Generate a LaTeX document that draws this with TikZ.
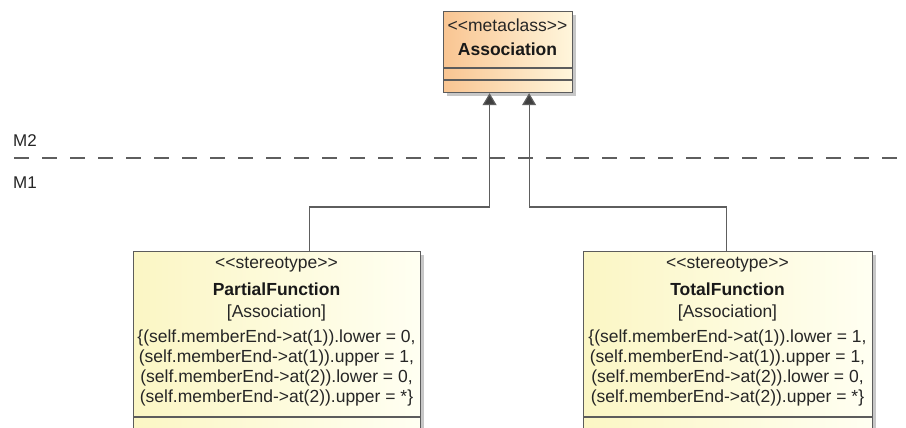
\documentclass[tikz,border=0pt]{standalone}
\usepackage{fontspec}
\newfontfamily\umlfont{Liberation Sans}
\usetikzlibrary{arrows.meta,shadows}

\definecolor{boxedge}{HTML}{5C5C5C}
\definecolor{wire}{HTML}{5E5E5E}
\definecolor{tipfill}{HTML}{3F3F3F}
\definecolor{metaA}{HTML}{F9C592}
\definecolor{metaB}{HTML}{FFF6DC}
\definecolor{stA}{HTML}{FBF6C4}
\definecolor{stB}{HTML}{FFFFF2}

\tikzset{
  umltext/.style={font=\umlfont\fontsize{17.5}{20}\selectfont, inner sep=0pt, text=black!85},
  umlname/.style={font=\umlfont\bfseries\fontsize{17.5}{20}\selectfont, inner sep=0pt, text=black!90},
  boxline/.style={draw=boxedge, line width=1.2pt, inner sep=0pt, anchor=north west,
    drop shadow={shadow xshift=3pt, shadow yshift=-3pt, fill=black, opacity=0.22}},
  metabox/.style={boxline, left color=metaA, right color=metaB},
  stereobox/.style={boxline, left color=stA, right color=stB},
  sep/.style={draw=boxedge, line width=1.2pt},
  gen/.style={draw=wire, line width=1.2pt,
    -{Triangle[width=14pt,length=12pt,fill=tipfill]}},
  level/.style={draw=wire, line width=1.1pt, dash pattern=on 15pt off 13pt},
  levtext/.style={font=\umlfont\fontsize{17}{20}\selectfont, inner sep=0pt, anchor=west, text=black!85},
}

\begin{document}
\begin{tikzpicture}[x=1pt,y=-1pt]
  \clip (0,0) rectangle (906,428);
  \fill[white] (0,0) rectangle (906,428);

  % metaclass Association
  \node[metabox, minimum width=129pt, minimum height=81pt] (assoc) at (443,11) {};
  \node[umltext] (assoc-st) at (507.5,25) {<<metaclass>>};
  \node[umlname] (assoc-nm) at (507.5,49) {Association};
  \draw[sep] ([yshift=-57pt]assoc.north west) -- ([yshift=-57pt]assoc.north east);
  \draw[sep] ([yshift=-69pt]assoc.north west) -- ([yshift=-69pt]assoc.north east);

  % metalevel separator
  \coordinate (levL) at (14,158);
  \coordinate (levR) at (906,158);
  \draw[level] (levL) -- (levR);
  \node[levtext] (m2) at (13,141) {M2};
  \node[levtext] (m1) at (13,183) {M1};

  % stereotype PartialFunction
  \node[stereobox, minimum width=287pt, minimum height=200pt] (pf) at (133,251) {};
  \node[umltext] (pf-st) at (276.5,265) {<<stereotype>>};
  \node[umlname] (pf-nm) at (276.5,289) {PartialFunction};
  \node[umltext] (pf-base) at (276.5,313) {[Association]};
  \node[umltext, align=center] (pf-inv) at (276.5,368)
    {\{(self.memberEnd->at(1)).lower = 0,\\
     (self.memberEnd->at(1)).upper = 1,\\
     (self.memberEnd->at(2)).lower = 0,\\
     (self.memberEnd->at(2)).upper = *\}};
  \draw[sep] ([yshift=-166pt]pf.north west) -- ([yshift=-166pt]pf.north east);

  % stereotype TotalFunction
  \node[stereobox, minimum width=289pt, minimum height=200pt] (tf) at (583,251) {};
  \node[umltext] (tf-st) at (727.5,265) {<<stereotype>>};
  \node[umlname] (tf-nm) at (727.5,289) {TotalFunction};
  \node[umltext] (tf-base) at (727.5,313) {[Association]};
  \node[umltext, align=center] (tf-inv) at (727.5,368)
    {\{(self.memberEnd->at(1)).lower = 1,\\
     (self.memberEnd->at(1)).upper = 1,\\
     (self.memberEnd->at(2)).lower = 0,\\
     (self.memberEnd->at(2)).upper = *\}};
  \draw[sep] ([yshift=-166pt]tf.north west) -- ([yshift=-166pt]tf.north east);

  % extensions of the metaclass
  \draw[gen] ([xshift=32.5pt]pf.north) -- ++(0,-44) -| ([xshift=-18.5pt]assoc.south);
  \draw[gen] ([xshift=-1.5pt]tf.north) -- ++(0,-44) -| ([xshift=21pt]assoc.south);
\end{tikzpicture}
\end{document}
